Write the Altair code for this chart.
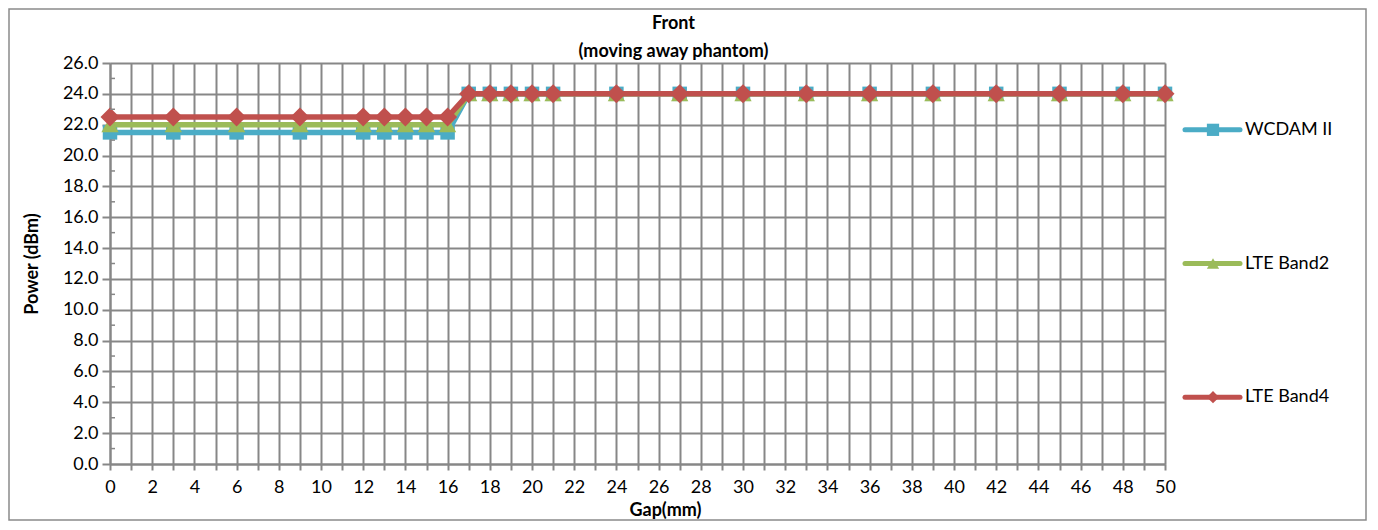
import altair as alt
import pandas as pd

gap = [0, 3, 6, 9, 12, 13, 14, 15, 16, 17, 18, 19, 20, 21, 24, 27, 30, 33, 36, 39, 42, 45, 48, 50]
wcdam_ii = [21.5, 21.5, 21.5, 21.5, 21.5, 21.5, 21.5, 21.5, 21.5, 24.0, 24.0, 24.0, 24.0, 24.0,
            24.0, 24.0, 24.0, 24.0, 24.0, 24.0, 24.0, 24.0, 24.0, 24.0]
lte_band2 = [22.0, 22.0, 22.0, 22.0, 22.0, 22.0, 22.0, 22.0, 22.0, 24.0, 24.0, 24.0, 24.0, 24.0,
             24.0, 24.0, 24.0, 24.0, 24.0, 24.0, 24.0, 24.0, 24.0, 24.0]
lte_band4 = [22.5, 22.5, 22.5, 22.5, 22.5, 22.5, 22.5, 22.5, 22.5, 24.0, 24.0, 24.0, 24.0, 24.0,
             24.0, 24.0, 24.0, 24.0, 24.0, 24.0, 24.0, 24.0, 24.0, 24.0]

series_names = ["WCDAM II", "LTE Band2", "LTE Band4"]
series_values = [wcdam_ii, lte_band2, lte_band4]
colors = ["#4BACC6", "#9BBB59", "#C0504D"]
shapes = ["square", "triangle-up", "diamond"]
marker_sizes = [210, 300, 360]

x_ticks = list(range(0, 51))
y_ticks = list(range(0, 27, 2))
y_minor = list(range(1, 27, 2))

FONT = "Lato"
GRID = "#878787"
NBSP4 = "\u00a0" * 4

rows = []
for name, vals in zip(series_names, series_values):
    for g, v in zip(gap, vals):
        rows.append({"gap": g, "series": name, "power": v})
df = pd.DataFrame(rows)

x_axis = alt.Axis(
    values=x_ticks,
    labelExpr="datum.value % 2 == 0 ? datum.label : ''",
    format="d",
    title="Gap(mm)",
    tickSize=6,
    labelPadding=8,
    titlePadding=5,
    titleX=555,
    labelFlush=False,
    labelOverlap=False,
)
y_axis = alt.Axis(
    values=y_ticks,
    format=".1f",
    labelExpr="datum.label + '" + NBSP4 + "'",
    title="Power (dBm)",
    tickSize=8,
    labelPadding=4,
    titleX=-69,
    labelFlush=False,
    labelOverlap=False,
)
x_scale = alt.Scale(domain=[0, 50], nice=False, zero=False)
y_scale = alt.Scale(domain=[0, 26], nice=False, zero=True)

base = alt.Chart(df).encode(
    x=alt.X("gap:Q", scale=x_scale, axis=x_axis),
    y=alt.Y("power:Q", scale=y_scale, axis=y_axis),
)

layers = []
for name, c, shp, sz in zip(series_names, colors, shapes, marker_sizes):
    sub = base.transform_filter(alt.datum.series == name)
    layers.append(sub.mark_line(color=c, strokeWidth=5.5, strokeCap="round", strokeJoin="round"))
    layers.append(sub.mark_point(shape=shp, filled=True, size=sz, color=c, opacity=1))

minor = alt.Chart(pd.DataFrame({"power": y_minor})).mark_rule(color=GRID, strokeWidth=1.5).encode(
    y=alt.Y("power:Q", scale=y_scale, axis=y_axis), x=alt.value(0), x2=alt.value(5)
)
frame = alt.Chart(pd.DataFrame({"a": [0]})).mark_rect(
    fillOpacity=0, stroke="#8a8a8a", strokeWidth=1.5
).encode(x=alt.value(-101), x2=alt.value(1256), y=alt.value(-54), y2=alt.value(457))

main = alt.layer(*layers, minor, frame)

leg_df = pd.DataFrame({"series": series_names})
leg_y = alt.Y("series:N", scale=alt.Scale(domain=series_names, type="point", padding=0.5), axis=None)
leg_color = alt.Color("series:N", scale=alt.Scale(domain=series_names, range=colors), legend=None)
leg_line = alt.Chart(leg_df).mark_rule(strokeWidth=5, strokeCap="round").encode(
    y=leg_y, color=leg_color, x=alt.value(1075), x2=alt.value(1130)
)
leg_pt = alt.Chart(leg_df).mark_point(filled=True, size=150, opacity=1).encode(
    y=leg_y,
    color=leg_color,
    x=alt.value(1103),
    shape=alt.Shape("series:N", scale=alt.Scale(domain=series_names, range=shapes), legend=None),
)
leg_txt = alt.Chart(leg_df).mark_text(
    align="left", baseline="middle", fontSize=18, font=FONT, color="#000000"
).encode(y=leg_y, x=alt.value(1135), text="series:N")
legend = alt.layer(leg_line, leg_pt, leg_txt)

chart = (
    alt.layer(main, legend)
    .resolve_scale(y="independent")
    .properties(
        width=1055,
        height=401,
        padding=0,
        background="#ffffff",
        title=alt.TitleParams(
            text=["Front", "(moving away phantom)"],
            font=FONT,
            fontSize=18,
            fontWeight="bold",
            color="#000000",
            anchor="middle",
            offset=-53,
            lineHeight=28,
            dx=36,
        ),
    )
    .configure_view(strokeWidth=0)
    .configure_axis(
        domainColor=GRID,
        domainWidth=2,
        gridColor=GRID,
        gridWidth=2,
        tickColor=GRID,
        tickWidth=2,
        labelFont=FONT,
        labelFontSize=18,
        labelColor="#000000",
        titleFont=FONT,
        titleFontSize=18,
        titleFontWeight="bold",
        titleColor="#000000",
    )
)

chart.save("out.html", embed_options={"renderer": "svg", "actions": False})
